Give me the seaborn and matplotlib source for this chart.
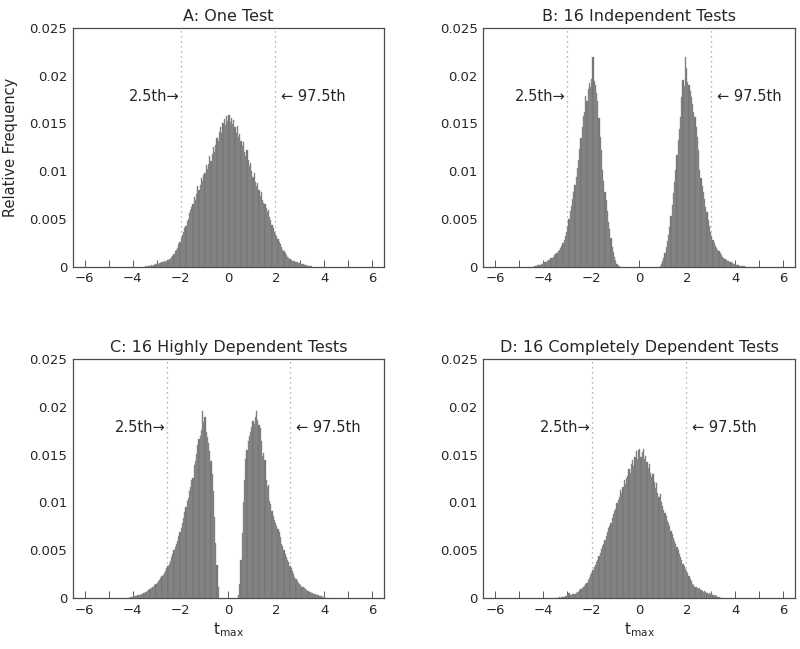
import numpy as np
import pandas as pd
import matplotlib
matplotlib.use("Agg")
import matplotlib.pyplot as plt
import seaborn as sns

# bin width of the histograms (t units); heights are relative frequency x 1000
BIN_W = 0.05

# A: one test
a_start = -3.5
a_freq = [
    0.05, 0, 0.1, 0.05, 0.1, 0.15, 0.1, 0.2, 0.15, 0.25,
    0.3, 0.25, 0.35, 0.4, 0.45, 0.45, 0.55, 0.5, 0.65, 0.7,
    0.8, 0.85, 1.0, 1.1, 1.3, 1.6, 1.8, 2.0, 2.4, 2.6,
    3.0, 3.3, 3.6, 4.1, 4.3, 4.8, 5.0, 5.6, 5.9, 6.3,
    6.6, 7.3, 7.0, 7.6, 8.4, 8.0, 8.6, 9.3, 9.0, 9.6,
    9.8, 10.6, 10.2, 10.8, 11.6, 11.1, 11.8, 12.5, 12.0, 12.7,
    13.5, 13.2, 14.1, 14.6, 14.0, 15.0, 15.5, 14.8, 15.8, 15.3,
    15.9, 15.2, 15.6, 14.9, 15.4, 14.6, 14.0, 14.7, 13.6, 13.9,
    13.2, 12.6, 13.1, 12.0, 11.6, 12.2, 11.2, 10.5, 10.9, 10.0,
    9.4, 9.8, 8.9, 8.4, 8.8, 8.0, 7.4, 7.8, 7.0, 6.7,
    6.6, 6.2, 5.7, 5.9, 5.2, 4.9, 4.4, 4.1, 3.6, 3.4,
    3.2, 2.9, 2.6, 2.4, 2.1, 1.8, 1.6, 1.4, 1.2, 1.0,
    0.9, 0.8, 0.75, 0.65, 0.6, 0.55, 0.5, 0.45, 0.4, 0.35,
    0.3, 0.3, 0.25, 0.2, 0.2, 0.15, 0.1, 0.1, 0.05, 0.05,
]

# B: 16 independent tests
b_left_start = -4.4
b_left_freq = [
    0.05, 0.1, 0.1, 0.15, 0.2, 0.2, 0.3, 0.25, 0.4, 0.45,
    0.5, 0.6, 0.7, 0.75, 0.9, 0.95, 1.0, 1.2, 1.3, 1.4,
    1.6, 1.8, 2.0, 2.2, 2.5, 2.8, 3.2, 3.6, 4.3, 5.0,
    5.8, 6.4, 7.1, 7.8, 8.6, 9.4, 10.3, 11.2, 12.3, 13.5,
    14.6, 15.8, 16.2, 17.9, 17.4, 18.6, 19.2, 18.8, 19.6, 22.0,
    19.4, 19.0, 18.2, 17.3, 15.6, 13.6, 12.2, 10.1, 9.0, 7.8,
    7.0, 5.8, 4.7, 3.9, 3.0, 2.1, 1.5, 1.0, 0.6, 0.3,
    0.1, 0.05,
]
b_right_start = 0.85
b_right_freq = [
    0.1, 0.3, 0.6, 0.9, 1.4, 2.1, 2.7, 3.3, 4.2, 5.3,
    6.5, 7.7, 8.9, 10.1, 11.7, 13.3, 14.4, 15.7, 17.8, 19.5,
    18.9, 22.0, 20.8, 19.3, 19.0, 18.4, 17.8, 17.0, 16.2, 15.7,
    14.6, 13.6, 12.2, 10.1, 9.3, 8.4, 7.8, 7.1, 6.3, 5.7,
    4.9, 4.3, 3.6, 3.2, 2.8, 2.5, 2.2, 2.0, 1.8, 1.6,
    1.4, 1.2, 1.0, 0.9, 0.8, 0.7, 0.65, 0.6, 0.5, 0.45,
    0.4, 0.3, 0.25, 0.2, 0.2, 0.15, 0.1, 0.1, 0.05, 0.05,
    0.05, 0,
]

# C: 16 highly dependent tests
c_left_start = -4.2
c_left_freq = [
    0.05, 0.05, 0.1, 0.1, 0.15, 0.2, 0.2, 0.25, 0.3, 0.3,
    0.35, 0.4, 0.45, 0.5, 0.6, 0.65, 0.7, 0.8, 0.9, 1.0,
    1.1, 1.2, 1.4, 1.5, 1.6, 1.8, 1.9, 2.1, 2.3, 2.4,
    2.6, 2.8, 3.1, 3.3, 3.6, 3.9, 4.3, 4.6, 5.0, 5.3,
    5.6, 6.0, 6.5, 6.9, 7.3, 7.8, 8.4, 9.0, 9.5, 10.2,
    10.5, 11.2, 11.6, 12.4, 12.6, 13.9, 14.3, 15.1, 16.0, 16.6,
    17.0, 17.6, 19.6, 18.4, 18.9, 17.4, 16.8, 16.2, 15.4, 14.3,
    13.0, 11.2, 8.5, 5.8, 3.5, 1.2,
]
c_right_start = 0.4
c_right_freq = [
    0.3, 1.5, 4.0, 6.8, 10.0, 12.3, 14.5, 15.5, 16.4, 17.0,
    17.4, 17.9, 18.5, 18.2, 18.9, 19.6, 18.6, 18.1, 17.8, 16.4,
    14.9, 15.2, 14.4, 12.3, 11.6, 11.8, 10.2, 9.8, 9.1, 8.6,
    8.2, 7.9, 7.5, 7.2, 6.9, 6.4, 5.7, 5.4, 5.0, 4.6,
    4.3, 4.0, 3.8, 3.4, 3.1, 2.8, 2.5, 2.2, 2.0, 1.8,
    1.6, 1.5, 1.4, 1.2, 1.1, 1.0, 0.9, 0.8, 0.7, 0.65,
    0.6, 0.5, 0.5, 0.45, 0.4, 0.35, 0.3, 0.3, 0.25, 0.2,
    0.15, 0.1, 0.1, 0.05, 0.05, 0.05,
]

# D: 16 completely dependent tests
d_start = -3.5
d_freq = [
    0, 0.05, 0.05, 0.1, 0.05, 0.1, 0.15, 0.1, 0.2, 0.2,
    0.25, 0.5, 0.3, 0.35, 0.4, 0.45, 0.4, 0.55, 0.6, 0.65,
    0.8, 0.9, 1.0, 1.1, 1.3, 1.5, 1.6, 1.9, 2.1, 2.4,
    2.6, 2.9, 3.2, 3.5, 3.8, 4.0, 4.4, 4.7, 5.1, 5.4,
    5.7, 6.1, 6.5, 6.9, 7.3, 7.5, 7.9, 8.4, 8.8, 9.1,
    9.3, 9.9, 10.3, 10.6, 11.3, 11.0, 11.6, 12.3, 11.9, 12.6,
    12.8, 13.5, 13.1, 14.0, 14.4, 13.8, 14.8, 15.4, 14.6, 15.5,
    15.6, 14.8, 15.3, 15.6, 14.5, 14.9, 14.2, 13.6, 14.0, 13.1,
    12.7, 13.0, 12.1, 11.5, 12.0, 11.0, 10.6, 10.9, 10.0, 9.6,
    9.2, 8.9, 8.6, 8.1, 7.9, 7.5, 7.0, 6.7, 6.3, 6.0,
    5.7, 5.3, 5.0, 4.6, 4.3, 4.0, 3.6, 3.3, 3.0, 2.8,
    2.6, 2.3, 2.0, 1.8, 1.5, 1.4, 1.2, 1.1, 1.0, 0.9,
    1.0, 0.8, 0.7, 0.65, 0.7, 0.6, 0.5, 0.45, 0.5, 0.4,
    0.5, 0.3, 0.25, 0.35, 0.2, 0.1, 0.1, 0.05, 0.05, 0,
]

titles = [
    "A: One Test",
    "B: 16 Independent Tests",
    "C: 16 Highly Dependent Tests",
    "D: 16 Completely Dependent Tests",
]
# 2.5th / 97.5th percentiles of t_max
pct_low = [-1.96, -3.0, -2.58, -1.96]
pct_high = [1.96, 3.0, 2.58, 1.96]

ytick_vals = [0, 0.005, 0.01, 0.015, 0.02, 0.025]
ytick_labels = ["0", "0.005", "0.01", "0.015", "0.02", "0.025"]

sns.set_theme(style="white")
plt.rcParams["font.family"] = ["DejaVu Sans"]
plt.rcParams["axes.unicode_minus"] = True

BAR_COLOR = "#707070"
EDGE_COLOR = "#939393"


def draw_segment(ax, start, freq):
    freq = np.asarray(freq, dtype=float) / 1000.0
    edges = start + BIN_W * np.arange(len(freq) + 1)
    df = pd.DataFrame({"t": edges[:-1] + BIN_W / 2, "w": freq})
    sns.histplot(
        data=df,
        x="t",
        weights="w",
        bins=[float(e) for e in edges],
        ax=ax,
        color=BAR_COLOR,
        edgecolor=EDGE_COLOR,
        linewidth=0.3,
        alpha=1.0,
        stat="count",
    )


fig = plt.figure(figsize=(8.0, 6.49), dpi=100)
positions = [
    [0.091, 0.589, 0.389, 0.368],
    [0.604, 0.589, 0.390, 0.368],
    [0.091, 0.0786, 0.389, 0.368],
    [0.604, 0.0786, 0.390, 0.368],
]
segments = [
    [(a_start, a_freq)],
    [(b_left_start, b_left_freq), (b_right_start, b_right_freq)],
    [(c_left_start, c_left_freq), (c_right_start, c_right_freq)],
    [(d_start, d_freq)],
]

for i, pos in enumerate(positions):
    ax = fig.add_axes(pos)
    for start, freq in segments[i]:
        draw_segment(ax, start, freq)

    ax.axvline(pct_low[i], color="0.6", linestyle=(0, (1, 3)), linewidth=0.9, zorder=0.5)
    ax.axvline(pct_high[i], color="0.6", linestyle=(0, (1, 3)), linewidth=0.9, zorder=0.5)
    ax.annotate("2.5th\u2192", xy=(pct_low[i], 0.0178), xytext=(-1, 0),
                textcoords="offset points", ha="right", va="center", fontsize=10.5)
    ax.annotate("\u2190 97.5th", xy=(pct_high[i], 0.0178), xytext=(4, 0),
                textcoords="offset points", ha="left", va="center", fontsize=10.5)

    ax.set_xlim(-6.5, 6.5)
    ax.set_ylim(0, 0.025)
    ax.set_xticks(range(-6, 7, 2))
    ax.set_xticks(range(-5, 6, 2), minor=True)
    ax.set_yticks(ytick_vals)
    ax.set_yticklabels(ytick_labels)
    ax.tick_params(axis="x", which="both", direction="in", length=5, width=0.7,
                   color="0.35", bottom=True, top=False, labelsize=9.5, pad=4)
    ax.tick_params(axis="y", length=0, labelsize=9.5, pad=4)
    for sp in ax.spines.values():
        sp.set_color("0.3")
        sp.set_linewidth(0.9)

    ax.set_title(titles[i], fontsize=11.5, pad=5)
    ax.set_ylabel("")
    if i == 0:
        ax.set_ylabel("Relative Frequency", fontsize=10.5, labelpad=8)
    if i >= 2:
        ax.set_xlabel(r"$\mathregular{t_{max}}$", fontsize=11, labelpad=3)
    else:
        ax.set_xlabel("")

fig.savefig("out.png", dpi=100, facecolor="white")
